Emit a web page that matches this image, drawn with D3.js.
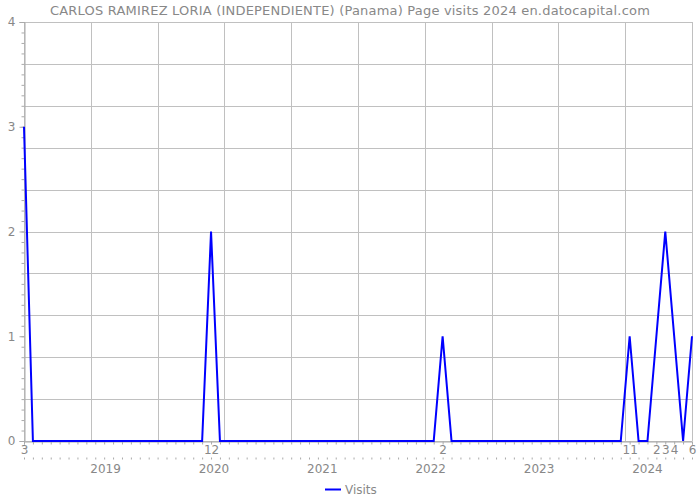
<!DOCTYPE html>
<html><head><meta charset="utf-8">
<script src="https://cdn.jsdelivr.net/npm/d3@7"></script>
<style>body{margin:0;background:#fff}svg{display:block}text{font-family:"DejaVu Sans",Verdana,sans-serif;fill:#888}</style>
</head><body><svg id="c" width="700" height="500"></svg>
<script>
// monthly data Mar 2018 .. Jun 2024
const startYear = 2018, startMonth = 3;
const visits = [3,0,0,0,0,0,0,0,0,0, // 2018 Mar-Dec
 0,0,0,0,0,0,0,0,0,0,0,2,            // 2019
 0,0,0,0,0,0,0,0,0,0,0,0,            // 2020
 0,0,0,0,0,0,0,0,0,0,0,0,            // 2021
 0,1,0,0,0,0,0,0,0,0,0,0,            // 2022
 0,0,0,0,0,0,0,0,0,0,1,0,            // 2023
 0,1,2,1,0,1];                        // 2024 Jan-Jun
const yTicks = [0,1,2,3,4];
const years = [2019,2020,2021,2022,2023,2024];
const title = "CARLOS RAMIREZ LORIA (INDEPENDIENTE) (Panama) Page visits 2024 en.datocapital.com";

const svg = d3.select("#c");
const L=24,R=692,T=22,B=441;
const x = d3.scaleLinear().domain([0,visits.length-1]).range([L,R]);
const y = d3.scaleLinear().domain([0,4]).range([B,T]);
const grid = svg.append("g").attr("stroke","#c0c0c0").attr("stroke-width",1);
d3.range(0,4.0001,0.4).forEach(v=>grid.append("line").attr("x1",L).attr("x2",R).attr("y1",Math.round(y(v))+0.5).attr("y2",Math.round(y(v))+0.5));
const xg = d3.scaleLinear().domain([0,10]).range([L,R]);
d3.range(0,11).forEach(i=>grid.append("line").attr("y1",T).attr("y2",B).attr("x1",Math.round(xg(i))+0.5).attr("x2",Math.round(xg(i))+0.5));

// y axis
const ya = svg.append("g").attr("transform",`translate(${L+0.5},0)`);
ya.call(d3.axisLeft(y).tickValues(d3.range(0,4.0001,0.1)).tickSize(3).tickFormat(""));
ya.call(g=>g.select(".domain").remove());
ya.selectAll("line").attr("stroke","#aaa");
const ym = svg.append("g").attr("transform",`translate(${L+0.5},0)`).call(d3.axisLeft(y).tickValues(yTicks).tickSize(5).tickFormat(d3.format("d")).tickPadding(4));
ym.select(".domain").attr("stroke","#aaa");
ym.selectAll("line").attr("stroke","#aaa");
ym.selectAll("text").attr("font-size",12).attr("fill","#888").style("font-family","DejaVu Sans");

// x axis
const monthOf = i => ((startMonth-1+i)%12)+1;
const yearOf = i => startYear + Math.floor((startMonth-1+i)/12);
const idx = d3.range(visits.length);
const xa = svg.append("g").attr("transform",`translate(0,${B+0.5})`).call(d3.axisBottom(x).tickValues(idx).tickSize(3).tickPadding(1).tickFormat(i=>visits[i]>0?monthOf(i):""));
xa.select(".domain").attr("stroke","#aaa");
xa.selectAll("line").attr("stroke","#aaa");
xa.selectAll("text").attr("font-size",12).attr("fill","#888").style("font-family","DejaVu Sans");
const xb = svg.append("g").attr("transform",`translate(0,457.5)`).call(d3.axisBottom(x).tickValues(idx).tickSize(2).tickFormat(""));
xb.select(".domain").remove();
xb.selectAll("line").attr("stroke","#aaa");
svg.append("g").selectAll("text").data(years).join("text")
  .attr("x",yr=>x(idx.find(i=>yearOf(i)===yr && monthOf(i)===1)) - (2024-yr)*1.5)
  .attr("y",473).attr("text-anchor","middle").attr("font-size",12).text(d=>d);

// line
svg.append("path").datum(visits).attr("fill","none").attr("stroke","#0000ff").attr("stroke-width",2)
  .attr("d",d3.line().x((d,i)=>x(i)).y(d=>y(d)));

// title
svg.append("text").attr("x",350).attr("y",15).attr("text-anchor","middle").attr("font-size",13).attr("letter-spacing",0.2).text(title);
// legend
svg.append("line").attr("x1",325).attr("x2",341).attr("y1",489.5).attr("y2",489.5).attr("stroke","#0000ff").attr("stroke-width",2);
svg.append("text").attr("x",345).attr("y",494).attr("font-size",12).text("Visits");
</script></body></html>
